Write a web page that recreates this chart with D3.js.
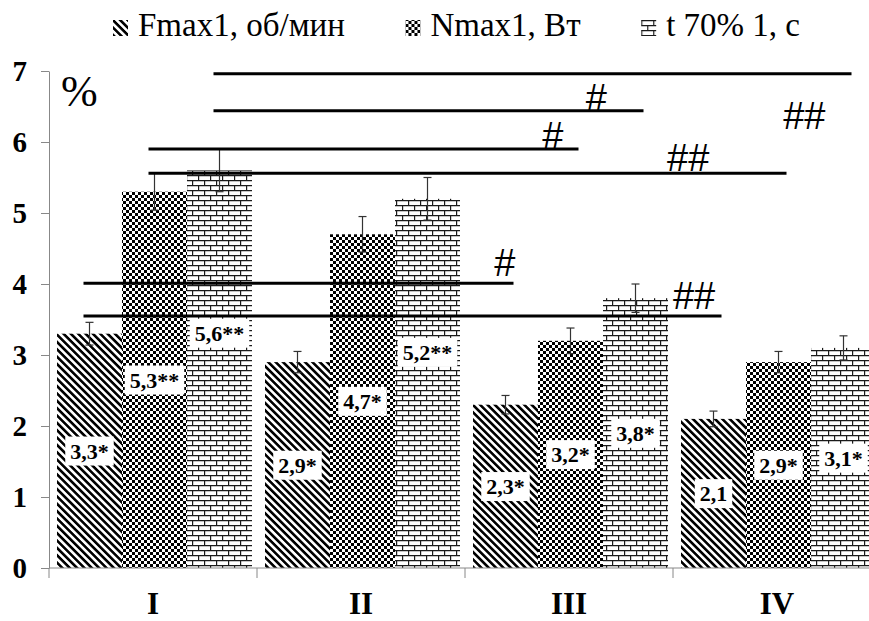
<!DOCTYPE html>
<html>
<head>
<meta charset="utf-8">
<script src="https://cdn.jsdelivr.net/npm/d3@7"></script>
<style>
  body { margin: 0; background: #fff; }
</style>
</head>
<body>
<svg id="chart" width="869" height="621"></svg>
<script>
// chart data
const categories = ["I", "II", "III", "IV"];
const seriesNames = ["Fmax1, об/мин", "Nmax1, Вт", "t 70% 1, с"];
const fmaxValues = [3.3, 2.9, 2.3, 2.1];
const nmaxValues = [5.3, 4.7, 3.2, 2.9];
const t70Values = [5.6, 5.2, 3.8, 3.1];
const fmaxErrors = [0.16, 0.15, 0.13, 0.11];
const nmaxErrors = [0.26, 0.25, 0.18, 0.15];
const t70Errors = [0.3, 0.3, 0.2, 0.17];
const fmaxLabels = ["3,3*", "2,9*", "2,3*", "2,1"];
const nmaxLabels = ["5,3**", "4,7*", "3,2*", "2,9*"];
const t70Labels = ["5,6**", "5,2**", "3,8*", "3,1*"];
const t70LabelLevels = [3.31, 3.04, null, null]; // null = middle of bar
const yTicks = [0, 1, 2, 3, 4, 5, 6, 7];

// significance lines: [category, series] from -> to, level, mark
const sigFrom = [[0, 2], [0, 2], [0, 1], [0, 1], [0, 0], [0, 0]];
const sigTo = [[3, 2], [2, 2], [2, 1], [3, 1], [2, 0], [3, 0]];
const sigLevels = [6.96, 6.44, 5.9, 5.56, 4.01, 3.55];
const sigMarks = ["##", "#", "#", "##", "#", "##"];
const sigMarkLevels = [6.18, 6.44, 5.9, 5.59, 4.11, 3.65];
const sigMarkAt = [0.926, 0.89, 0.94, 0.846, 0.98, 0.957];

const values = [fmaxValues, nmaxValues, t70Values];
const errors = [fmaxErrors, nmaxErrors, t70Errors];
const labels = [fmaxLabels, nmaxLabels, t70Labels];

const serif = "Liberation Serif";
const sans = "Liberation Sans";

const svg = d3.select("#chart");
const x0 = d3.scaleBand().domain(categories).range([49, 881]);
const x1 = d3.scaleBand().domain(d3.range(3)).range([8, 203]);
const y = d3.scaleLinear().domain([0, 7]).range([568, 71]);

// patterns
const defs = svg.append("defs");
const pDiag = defs.append("pattern")
    .attr("id", "pat-0")
    .attr("patternUnits", "userSpaceOnUse")
    .attr("width", 5.2).attr("height", 5.2)
    .attr("patternTransform", "rotate(-45)");
pDiag.append("rect").attr("width", 5.2).attr("height", 5.2).attr("fill", "#fff");
pDiag.append("rect").attr("width", 2.6).attr("height", 5.2).attr("fill", "#000");

const pCheck = defs.append("pattern")
    .attr("id", "pat-1")
    .attr("patternUnits", "userSpaceOnUse")
    .attr("width", 6).attr("height", 6);
pCheck.append("rect").attr("width", 6).attr("height", 6).attr("fill", "#fff");
pCheck.append("rect").attr("width", 3).attr("height", 3).attr("fill", "#000");
pCheck.append("rect").attr("x", 3).attr("y", 3).attr("width", 3).attr("height", 3).attr("fill", "#000");

const pBrick = defs.append("pattern")
    .attr("id", "pat-2")
    .attr("patternUnits", "userSpaceOnUse")
    .attr("width", 12).attr("height", 10);
pBrick.append("rect").attr("width", 12).attr("height", 10).attr("fill", "#fff");
pBrick.append("path")
    .attr("d", "M0,0.6H12M0,5.6H12M0.6,0V5.6M6.6,5.6V10")
    .attr("stroke", "#1a1a1a")
    .attr("stroke-width", 1.2)
    .attr("fill", "none");

// legend: items laid out with equal gaps, centred over the plot
const legend = svg.append("g");
const items = seriesNames.map((name, s) => {
    const g = legend.append("g");
    g.append("rect")
        .attr("y", 20)
        .attr("width", 15).attr("height", 16)
        .attr("fill", `url(#pat-${s})`);
    const t = g.append("text")
        .attr("x", 25).attr("y", 36)
        .attr("font-family", serif)
        .attr("font-size", "33px")
        .attr("fill", "#000")
        .text(name);
    return { g, w: 25 + t.node().getComputedTextLength() };
});
const legStart = 113, legEnd = 800;
const gap = (legEnd - legStart - d3.sum(items, d => d.w)) / (items.length - 1);
let lx = legStart;
items.forEach(it => {
    it.g.attr("transform", `translate(${lx},0)`);
    lx += it.w + gap;
});

// y axis
const yAxis = svg.append("g")
    .attr("transform", "translate(49,0)")
    .call(d3.axisLeft(y).tickValues(yTicks).tickSize(8).tickSizeOuter(0).tickPadding(14).tickFormat(d3.format("d")));
yAxis.select(".domain").attr("stroke", "#888");
yAxis.selectAll(".tick line").attr("stroke", "#888");
yAxis.selectAll(".tick text")
    .attr("font-family", serif)
    .attr("font-size", "29px")
    .attr("font-weight", "bold")
    .attr("fill", "#000");

svg.append("text")
    .attr("x", 61).attr("y", 106)
    .attr("font-family", serif)
    .attr("font-size", "44px")
    .attr("fill", "#000")
    .text("%");

// bars
values.forEach((vals, s) => {
    svg.append("g").selectAll("rect")
        .data(vals)
        .join("rect")
        .attr("x", (d, i) => x0(categories[i]) + x1(s))
        .attr("y", d => y(d))
        .attr("width", x1.bandwidth())
        .attr("height", d => y(0) - y(d))
        .attr("fill", `url(#pat-${s})`);
});

// error bars
values.forEach((vals, s) => {
    vals.forEach((v, i) => {
        const cx = x0(categories[i]) + x1(s) + x1.bandwidth() / 2;
        const e = errors[s][i];
        const g = svg.append("g").attr("stroke", "#333").attr("stroke-width", 1.2);
        g.append("line").attr("x1", cx).attr("x2", cx).attr("y1", y(v - e)).attr("y2", y(v + e));
        g.append("line").attr("x1", cx - 4).attr("x2", cx + 4).attr("y1", y(v + e)).attr("y2", y(v + e));
        g.append("line").attr("x1", cx - 4).attr("x2", cx + 4).attr("y1", y(v - e)).attr("y2", y(v - e));
    });
});

// x axis
const xAxis = svg.append("g").attr("stroke", "#888").attr("stroke-width", 1);
xAxis.append("line").attr("x1", 49).attr("x2", 869).attr("y1", y(0)).attr("y2", y(0));
categories.forEach(c => {
    xAxis.append("line")
        .attr("x1", x0(c)).attr("x2", x0(c))
        .attr("y1", y(0)).attr("y2", y(0) + 10);
});
svg.append("g").selectAll("text")
    .data(categories)
    .join("text")
    .attr("x", d => x0(d) + x0.bandwidth() / 2)
    .attr("y", 614)
    .attr("text-anchor", "middle")
    .attr("font-family", serif)
    .attr("font-size", "31px")
    .attr("font-weight", "bold")
    .attr("fill", "#000")
    .text(d => d);

// significance lines
const barCenter = ([i, s]) => x0(categories[i]) + x1(s) + x1.bandwidth() / 2;
sigLevels.forEach((lvl, k) => {
    const xa = barCenter(sigFrom[k]) - 6;
    const xb = barCenter(sigTo[k]) + 8;
    svg.append("line")
        .attr("x1", xa).attr("x2", xb)
        .attr("y1", y(lvl)).attr("y2", y(lvl))
        .attr("stroke", "#000")
        .attr("stroke-width", 3);
    svg.append("text")
        .attr("x", xa + (xb - xa) * sigMarkAt[k])
        .attr("y", y(sigMarkLevels[k]))
        .attr("text-anchor", "middle")
        .attr("font-family", sans)
        .attr("font-size", "38px")
        .attr("fill", "#000")
        .text(sigMarks[k]);
});

// value labels with white boxes
labels.forEach((labs, s) => {
    labs.forEach((lab, i) => {
        const v = values[s][i];
        const cx = x0(categories[i]) + x1(s) + x1.bandwidth() / 2;
        const lvl = s === 2 && t70LabelLevels[i] != null ? t70LabelLevels[i] : v / 2;
        const g = svg.append("g");
        const bg = g.append("rect").attr("fill", "#fff");
        const t = g.append("text")
            .attr("x", cx)
            .attr("y", y(lvl))
            .attr("dy", "0.35em")
            .attr("text-anchor", "middle")
            .attr("font-family", serif)
            .attr("font-size", "22px")
            .attr("font-weight", "bold")
            .attr("fill", "#000")
            .text(lab);
        const b = t.node().getBBox();
        bg.attr("x", b.x - 5).attr("y", b.y - 2)
            .attr("width", b.width + 10).attr("height", b.height + 4);
    });
});
</script>
</body>
</html>
